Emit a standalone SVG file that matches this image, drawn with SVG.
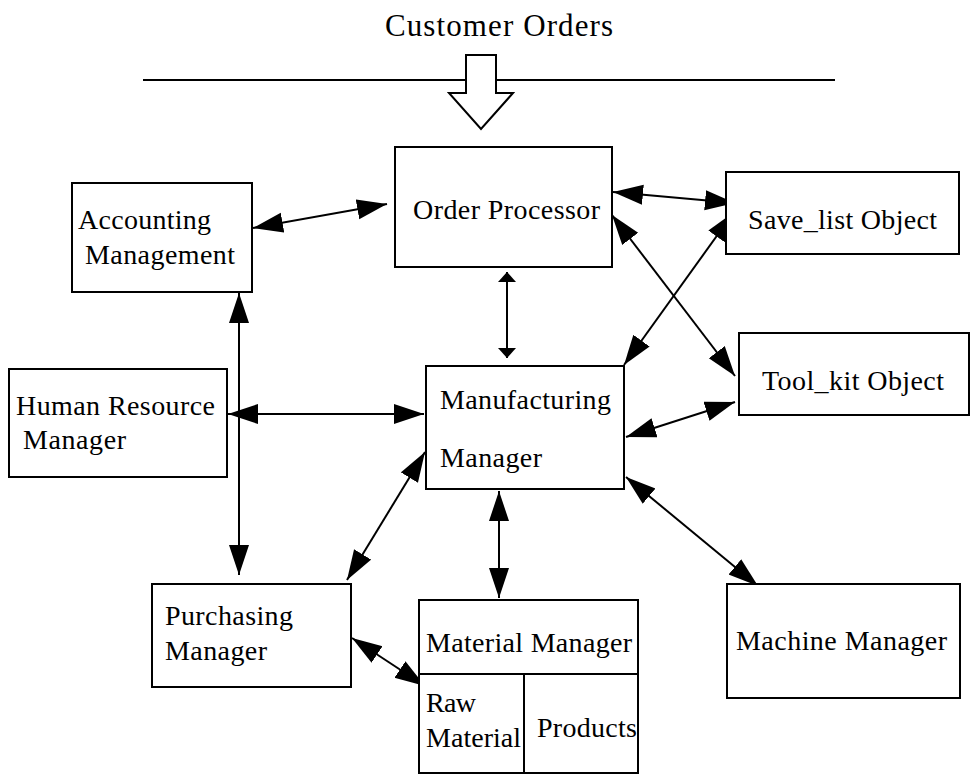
<svg xmlns="http://www.w3.org/2000/svg" width="971" height="775" viewBox="0 0 971 775">
<style>
.box{fill:#fff;stroke:#000;stroke-width:2}
text{font-family:'Liberation Serif','Times New Roman',serif;fill:#000}
.t{font-size:28px}
.ttl{font-size:31px}
.c{stroke:#000;stroke-width:2;fill:none;marker-start:url(#ah);marker-end:url(#ah)}
.cs{stroke:#000;stroke-width:2;fill:none;marker-start:url(#as);marker-end:url(#as)}
</style>
<defs>
<marker id="ah" markerUnits="userSpaceOnUse" markerWidth="32" markerHeight="22" refX="30" refY="10" orient="auto-start-reverse"><path d="M0,0 L30,10 L0,20 z" fill="#000"/></marker>
<marker id="as" markerUnits="userSpaceOnUse" markerWidth="12" markerHeight="20" refX="10" refY="9" orient="auto-start-reverse"><path d="M0,0 L10,9 L0,18 z" fill="#000"/></marker>
</defs>
<rect width="971" height="775" fill="#fff"/>
<g id="title">
<text class="ttl" x="385" y="36" textLength="228">Customer Orders</text>
<line x1="143" y1="80" x2="835" y2="80" stroke="#000" stroke-width="2"/>
<polygon points="466,55 496,55 496,93 513,93 481,129 449,93 466,93" fill="#fff" stroke="#000" stroke-width="2"/>
</g>
<g id="connectors">
<line class="c" x1="253" y1="228" x2="387" y2="204"/>
<line class="c" x1="613" y1="192" x2="735" y2="203"/>
<line class="c" x1="612" y1="215" x2="735" y2="376"/>
<line class="c" x1="734" y1="212" x2="624" y2="365"/>
<line class="c" x1="735" y1="402" x2="626" y2="437"/>
<line class="cs" x1="507" y1="272" x2="507" y2="358"/>
<line class="c" x1="239" y1="293" x2="239" y2="575"/>
<line class="c" x1="228" y1="414" x2="424" y2="414"/>
<line class="c" x1="347" y1="580" x2="425" y2="452"/>
<line class="c" x1="499" y1="491" x2="499" y2="598"/>
<line class="c" x1="626" y1="477" x2="758" y2="586"/>
<line class="c" x1="352" y1="638" x2="425" y2="686"/>
</g>
<g id="accounting">
<rect class="box" x="72" y="183" width="180" height="109"/>
<text class="t" x="78" y="229" textLength="133">Accounting</text>
<text class="t" x="85" y="264" textLength="150">Management</text>
</g>
<g id="order-processor">
<rect class="box" x="395" y="147" width="217" height="120"/>
<text class="t" x="413" y="219" textLength="187">Order Processor</text>
</g>
<g id="save-list">
<rect class="box" x="726" y="172" width="233" height="82"/>
<text class="t" x="748" y="229" textLength="189">Save_list Object</text>
</g>
<g id="tool-kit">
<rect class="box" x="739" y="333" width="230" height="82"/>
<text class="t" x="762" y="390" textLength="182">Tool_kit Object</text>
</g>
<g id="human-resource">
<rect class="box" x="9" y="369" width="218" height="108"/>
<text class="t" x="16" y="415" textLength="199">Human Resource</text>
<text class="t" x="23" y="449" textLength="103">Manager</text>
</g>
<g id="manufacturing">
<rect class="box" x="426" y="366" width="198" height="123"/>
<text class="t" x="440" y="409" textLength="171">Manufacturing</text>
<text class="t" x="440" y="467" textLength="102">Manager</text>
</g>
<g id="purchasing">
<rect class="box" x="152" y="584" width="199" height="103"/>
<text class="t" x="165" y="625" textLength="128">Purchasing</text>
<text class="t" x="165" y="660" textLength="102">Manager</text>
</g>
<g id="material-manager">
<rect class="box" x="419" y="600" width="219" height="173"/>
<line x1="419" y1="674" x2="638" y2="674" stroke="#000" stroke-width="2"/>
<line x1="524" y1="674" x2="524" y2="773" stroke="#000" stroke-width="2"/>
<text class="t" x="426" y="652" textLength="206">Material Manager</text>
<text class="t" x="426" y="712" textLength="50">Raw</text>
<text class="t" x="426" y="747" textLength="95">Material</text>
<text class="t" x="537" y="737" textLength="100">Products</text>
</g>
<g id="machine-manager">
<rect class="box" x="727" y="584" width="233" height="114"/>
<text class="t" x="736" y="650" textLength="211">Machine Manager</text>
</g>
</svg>
